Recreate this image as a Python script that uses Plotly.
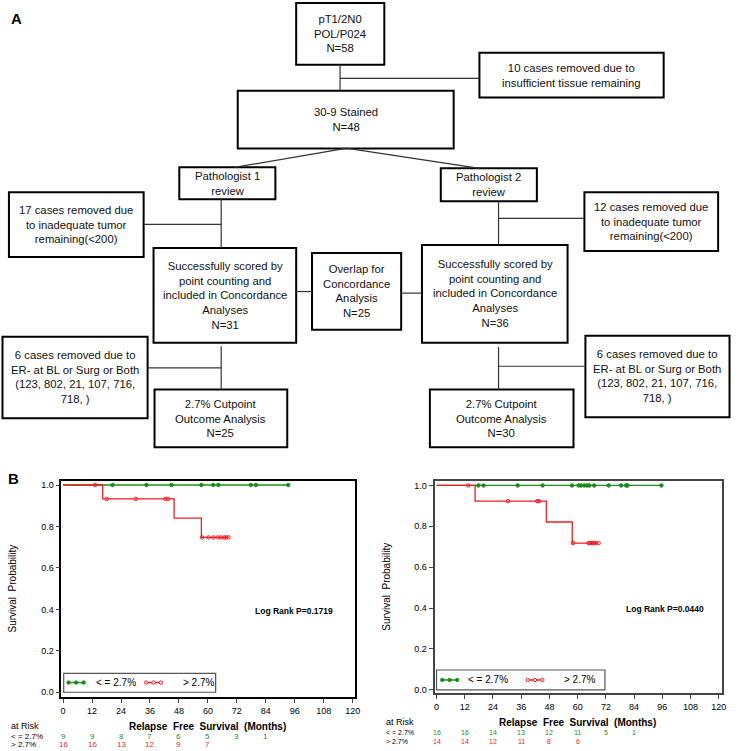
import plotly.graph_objects as go

W, H = 738, 751


def px(x):
    return x / W


def py(y):
    return 1 - y / H


# ---------------- data ----------------
month_ticks = [0, 12, 24, 36, 48, 60, 72, 84, 96, 108, 120]
risk_times = [0, 12, 24, 36, 48, 60, 72, 84]

# Pathologist 1 (N=25)
p1_low_t = [0, 93.3]
p1_low_s = [1.0, 1.0]
p1_low_cens = [20.5, 34.5, 44.9, 57.3, 62.2, 64.3, 77.8, 79.9, 93.3]
p1_high_t = [0, 16.4, 46.0, 57.3, 68.6]
p1_high_s = [1.0, 0.933, 0.840, 0.747, 0.747]
p1_high_cens = [13.3, 18.1, 30.1, 42.4, 43.4, 57.6, 60.3, 62.3, 64.3, 65.5, 66.8, 67.6, 68.6]
p1_risk_low = [9, 9, 8, 7, 6, 5, 3, 1]
p1_risk_high = [16, 16, 13, 12, 9, 7]
p1_logrank = "Log Rank P=0.1719"

# Pathologist 2 (N=30)
p2_low_t = [0, 95.6]
p2_low_s = [1.0, 1.0]
p2_low_cens = [17.8, 20.0, 34.5, 45.1, 57.6, 60.4, 61.4, 62.8, 64.0, 65.0, 67.0, 73.2, 78.5, 80.6, 81.2, 95.6]
p2_high_t = [0, 16.4, 46.7, 57.7, 68.9]
p2_high_s = [1.0, 0.923, 0.821, 0.718, 0.718]
p2_high_cens = [13.5, 30.4, 42.8, 43.6, 58.0, 64.6, 65.2, 66.2, 66.9, 67.6, 68.9]
p2_risk_low = [16, 16, 14, 13, 12, 11, 5, 1]
p2_risk_high = [14, 14, 12, 11, 8, 6]
p2_logrank = "Log Rank P=0.0440"

group_labels = ["< = 2.7%", "> 2.7%"]

GREEN = "#1c8c1c"
RED = "#ef1d25"


def level(t, ts, ss):
    v = ss[0]
    for a, b in zip(ts, ss):
        if a <= t:
            v = b
    return v


fig = go.Figure()

panels = [
    dict(xa="x", ya="y", low=(p1_low_t, p1_low_s, p1_low_cens), high=(p1_high_t, p1_high_s, p1_high_cens)),
    dict(xa="x2", ya="y2", low=(p2_low_t, p2_low_s, p2_low_cens), high=(p2_high_t, p2_high_s, p2_high_cens)),
]
for p in panels:
    for key, col, sym in (("low", GREEN, "circle"), ("high", RED, "circle-open")):
        ts, ss, cens = p[key]
        fig.add_trace(go.Scatter(x=ts, y=ss, mode="lines", line=dict(color=col, width=1.3, shape="hv"),
                                 xaxis=p["xa"], yaxis=p["ya"], hoverinfo="skip"))
        fig.add_trace(go.Scatter(x=cens, y=[level(c, ts, ss) for c in cens], mode="markers",
                                 marker=dict(color=col, size=3.5, symbol=sym, line=dict(color=col, width=1)),
                                 xaxis=p["xa"], yaxis=p["ya"], hoverinfo="skip"))

tickfont = dict(family="Liberation Sans, Arial", size=9, color="black")

shapes = []
ann = []

# ---------------- flowchart ----------------
FC_FONT = dict(family="Liberation Sans, Arial", size=11.3, color="#111")
boxes = [
    (298, 2, 387, 64, "pT1/2N0<br>POL/P024<br>N=58"),
    (483, 52, 669, 97, "10 cases removed due to<br>insufficient tissue remaining"),
    (239, 90, 457, 148, "30-9 Stained<br>N=48"),
    (180, 167, 277, 199, "Pathologist 1<br>review"),
    (444, 168, 541, 201, "Pathologist 2<br>review"),
    (8, 192, 144, 257, "17 cases removed due<br>to inadequate tumor<br>remaining(<200)"),
    (589, 192, 724, 251, "12 cases removed due<br>to inadequate tumor<br>remaining(<200)"),
    (154, 248, 298, 343, "Successfully scored by<br>point counting and<br>included in Concordance<br>Analyses<br>N=31"),
    (314, 253, 404, 330, "Overlap for<br>Concordance<br>Analysis<br>N=25"),
    (425, 245, 572, 343, "Successfully scored by<br>point counting and<br>included in Concordance<br>Analyses<br>N=36"),
    (1.5, 337, 148, 419, "6 cases removed due to<br>ER- at BL or Surg or Both<br>(123, 802, 21, 107, 716,<br>718, )"),
    (155, 390, 289, 448, "2.7% Cutpoint<br>Outcome Analysis<br>N=25"),
    (590, 336, 735.5, 418, "6 cases removed due to<br>ER- at BL or Surg or Both<br>(123, 802, 21, 107, 716,<br>718, )"),
    (433, 390, 578, 448, "2.7% Cutpoint<br>Outcome Analysis<br>N=30"),
]
for x0, y0, x1, y1, txt in boxes:
    shapes.append(dict(type="rect", xref="paper", yref="paper", x0=px(x0), x1=px(x1), y0=py(y1), y1=py(y0),
                       line=dict(color="black", width=2), fillcolor="rgba(0,0,0,0)"))
    ann.append(dict(xref="paper", yref="paper", x=px((x0 + x1) / 2), y=py((y0 + y1) / 2), text=txt,
                    showarrow=False, font=FC_FONT, xanchor="center", yanchor="middle", align="center"))

connectors = [
    (342.3, 64, 342.3, 90), (342.3, 77.7, 483, 77.7),
    (348, 148, 236, 167), (350, 148, 483, 168),
    (222.3, 199, 222.3, 248), (144, 224.3, 222.3, 224.3),
    (502.3, 201, 502.3, 245), (502.3, 218.3, 589, 218.3),
    (298, 291.7, 314, 291.7), (404, 293.3, 425, 293.3),
    (222.3, 346.7, 222.3, 390), (148, 368.3, 222.3, 368.3),
    (502.3, 347.3, 502.3, 390), (502.3, 366.7, 590, 366.7),
]
for x0, y0, x1, y1 in connectors:
    shapes.append(dict(type="line", xref="paper", yref="paper", x0=px(x0), x1=px(x1), y0=py(y0), y1=py(y1),
                       line=dict(color="#333", width=1.2)))

ann.append(dict(xref="paper", yref="paper", x=px(8), y=py(18), text="<b>A</b>", showarrow=False,
                font=dict(family="Liberation Sans, Arial", size=15, color="black"), xanchor="left", yanchor="middle"))
ann.append(dict(xref="paper", yref="paper", x=px(5), y=py(479), text="<b>B</b>", showarrow=False,
                font=dict(family="Liberation Sans, Arial", size=15, color="black"), xanchor="left", yanchor="middle"))

# ---------------- KM decorations ----------------
km = [
    dict(xa="x", ylab_x=12, ylab_y=590, lr=(296, 612.7), lr_text=p1_logrank,
         leg=(63.3, 675, 216.7, 694, 684.3, (66.7, 85), 94.3, (145, 163), 181.7),
         risk_lab_x=8, ry=(728.3, 738.5, 746.2), xt_y=728.3, risk=(p1_risk_low, p1_risk_high), rfs=8),
    dict(xa="x2", ylab_x=389.7, ylab_y=588, lr=(670.3, 610.7), lr_text=p2_logrank,
         leg=(439.7, 671.7, 609.7, 691.7, 681.7, (444, 462), 469.7, (530.3, 548), 566.3),
         risk_lab_x=386.3, ry=(724.3, 734.8, 743.2), xt_y=724.3, risk=(p2_risk_low, p2_risk_high), rfs=7),
]
small = dict(family="Liberation Sans, Arial", size=9, color="black")
for k in km:
    tiny = dict(family="Liberation Sans, Arial", size=k["rfs"], color="black")
    ann.append(dict(xref="paper", yref="paper", x=px(k["ylab_x"]), y=py(k["ylab_y"]), text="Survival&nbsp; Probability",
                    textangle=-90, showarrow=False, font=dict(family="Liberation Sans, Arial", size=10, color="black"),
                    xanchor="center", yanchor="middle"))
    ann.append(dict(xref="paper", yref="paper", x=px(k["lr"][0]), y=py(k["lr"][1]), text="<b>" + k["lr_text"] + "</b>",
                    showarrow=False, font=dict(family="Liberation Sans, Arial", size=8.5, color="black"),
                    xanchor="center", yanchor="middle"))
    lx0, ly0, lx1, ly1, lyc, gseg, gtx, rseg, rtx = k["leg"]
    shapes.append(dict(type="rect", xref="paper", yref="paper", x0=px(lx0), x1=px(lx1), y0=py(ly1), y1=py(ly0),
                       line=dict(color="#555", width=1.2), fillcolor="white"))
    for seg, col, filled in ((gseg, GREEN, True), (rseg, RED, False)):
        shapes.append(dict(type="line", xref="paper", yref="paper", x0=px(seg[0]), x1=px(seg[1]), y0=py(lyc), y1=py(lyc),
                           line=dict(color=col, width=1.5)))
        for cx in (seg[0] + 1.5, (seg[0] + seg[1]) / 2, seg[1] - 1.5):
            shapes.append(dict(type="circle", xref="paper", yref="paper", x0=px(cx - 1.7), x1=px(cx + 1.7),
                               y0=py(lyc + 1.7), y1=py(lyc - 1.7), line=dict(color=col, width=1),
                               fillcolor=col if filled else "white"))
    ann.append(dict(xref="paper", yref="paper", x=px(gtx), y=py(lyc), text=group_labels[0], showarrow=False,
                    font=dict(family="Liberation Sans, Arial", size=10, color="black"), xanchor="left", yanchor="middle"))
    ann.append(dict(xref="paper", yref="paper", x=px(rtx), y=py(lyc), text=group_labels[1], showarrow=False,
                    font=dict(family="Liberation Sans, Arial", size=10, color="black"), xanchor="left", yanchor="middle"))
    # at risk table
    ann.append(dict(xref="paper", yref="paper", x=px(k["risk_lab_x"]), y=py(k["ry"][0]), text="at Risk", showarrow=False,
                    font=small, xanchor="left", yanchor="middle"))
    ann.append(dict(xref="paper", yref="paper", x=px(k["risk_lab_x"]), y=py(k["ry"][1]), text=group_labels[0],
                    showarrow=False, font=tiny, xanchor="left", yanchor="middle"))
    ann.append(dict(xref="paper", yref="paper", x=px(k["risk_lab_x"]), y=py(k["ry"][2]), text=group_labels[1],
                    showarrow=False, font=tiny, xanchor="left", yanchor="middle"))
    ann.append(dict(xref=k["xa"], yref="paper", x=60, y=py(k["xt_y"]),
                    text="<b>Relapse&nbsp; Free&nbsp; Survival&nbsp; (Months)</b>",
                    showarrow=False, font=dict(family="Liberation Sans, Arial", size=10, color="black"),
                    xanchor="center", yanchor="middle"))
    for vals, col, yy in ((k["risk"][0], GREEN, k["ry"][1]), (k["risk"][1], RED, k["ry"][2])):
        for t, v in zip(risk_times, vals):
            ann.append(dict(xref=k["xa"], yref="paper", x=t, y=py(yy), text=str(v), showarrow=False,
                            font=dict(family="Liberation Sans, Arial", size=k["rfs"], color=col),
                            xanchor="center", yanchor="middle"))

axis_common = dict(showgrid=False, zeroline=False, ticks="outside", ticklen=4, tickfont=tickfont, showline=True,
                   mirror=True)

fig.update_layout(
    width=W, height=H, margin=dict(l=0, r=0, t=0, b=0),
    paper_bgcolor="white", plot_bgcolor="white", showlegend=False,
    xaxis=dict(domain=[px(61), px(357)], range=[-0.70, 120.8], tickvals=month_ticks, linecolor="black", linewidth=1.5,
               anchor="y", **axis_common),
    yaxis=dict(domain=[py(699), py(482)], range=[-0.024, 1.019], tickvals=[0, 0.2, 0.4, 0.6, 0.8, 1.0],
               tickformat=".1f", linecolor="black", linewidth=1.5, anchor="x", **axis_common),
    xaxis2=dict(domain=[px(437.7), px(728)], range=[-0.84, 121.4], tickvals=month_ticks, linecolor="#444", linewidth=2,
                anchor="y2", **axis_common),
    yaxis2=dict(domain=[py(695), py(482.3)], range=[-0.017, 1.020], tickvals=[0, 0.2, 0.4, 0.6, 0.8, 1.0],
                tickformat=".1f", linecolor="#444", linewidth=2, anchor="x2", **axis_common),
    shapes=shapes, annotations=ann,
)

fig.write_html("out.html", config={"displayModeBar": False},
               post_script="document.body.style.margin='0';document.body.style.overflow='hidden';")
